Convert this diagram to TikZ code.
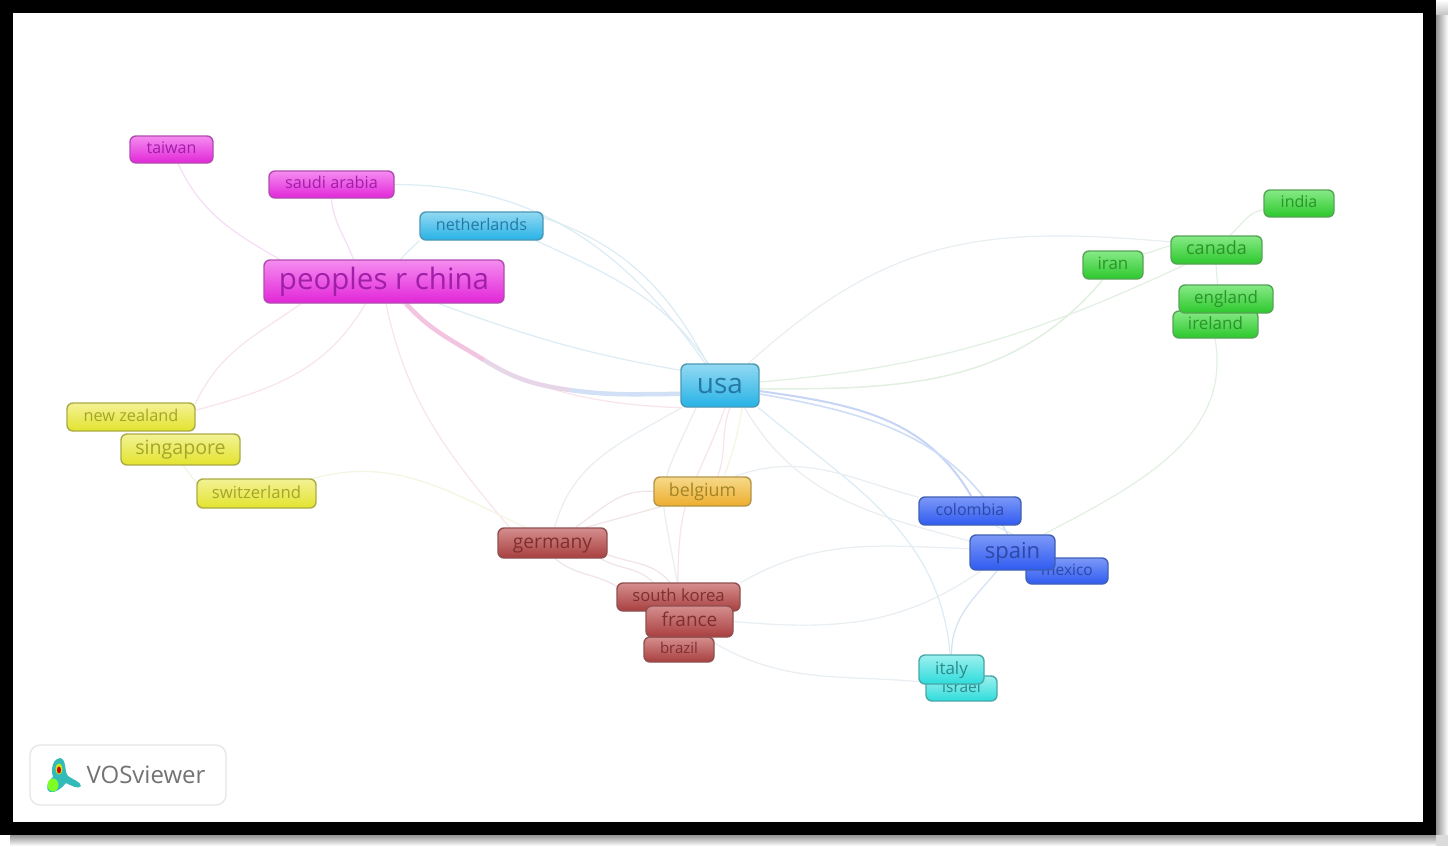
\documentclass[tikz,border=0pt]{standalone}
\usepackage{fontspec}
\setmainfont{Open Sans}
\usetikzlibrary{positioning,arrows.meta}
\definecolor{linkmag}{HTML}{F6DDF6}
\definecolor{linkpink}{HTML}{F8E4EC}
\definecolor{linkblue}{HTML}{DCECF5}
\definecolor{linkgreen}{HTML}{E2F0E2}
\definecolor{linkred}{HTML}{F0E4E6}
\definecolor{linkgrey}{HTML}{E8EEF2}
\definecolor{linkyellow}{HTML}{F6F4E2}
\pgfdeclarelayer{links}
\pgfsetlayers{links,main}
\tikzset{
  chip/.style={rounded corners=6pt, inner sep=0pt, line width=1.4pt},
  sz/.style 2 args={minimum width=#1pt, minimum height=#2pt},
  fnt/.style={font=\fontsize{#1}{#1}\selectfont, text height={#1*0.74pt}, text depth={#1*0.2pt}},
  chipcol/.style n args={4}{chip, draw=#1, top color=#2, bottom color=#3, text=#4},
  link/.style={line width=1.2pt, line cap=round},
}
\definecolor{magdraw}{HTML}{B04CB0}\definecolor{magtop}{HTML}{F58CF0}\definecolor{magbot}{HTML}{E226D8}\definecolor{magtext}{HTML}{A01FA8}
\definecolor{skydraw}{HTML}{4A98B5}\definecolor{skytop}{HTML}{92D9F2}\definecolor{skybot}{HTML}{27B2E6}\definecolor{skytext}{HTML}{2578A5}
\definecolor{yeldraw}{HTML}{ABAB45}\definecolor{yeltop}{HTML}{F3F295}\definecolor{yelbot}{HTML}{E3E32E}\definecolor{yeltext}{HTML}{A5A52A}
\definecolor{orgdraw}{HTML}{B39548}\definecolor{orgtop}{HTML}{F6D98A}\definecolor{orgbot}{HTML}{EDAE2E}\definecolor{orgtext}{HTML}{A28428}
\definecolor{reddraw}{HTML}{8F5050}\definecolor{redtop}{HTML}{D58E8E}\definecolor{redbot}{HTML}{A93F3F}\definecolor{redtext}{HTML}{7E3030}
\definecolor{bludraw}{HTML}{4060B5}\definecolor{blutop}{HTML}{7C98F8}\definecolor{blubot}{HTML}{2F5BF0}\definecolor{blutext}{HTML}{2E48A8}
\definecolor{cyadraw}{HTML}{48A8A8}\definecolor{cyatop}{HTML}{9CF0EE}\definecolor{cyabot}{HTML}{2EDCDC}\definecolor{cyatext}{HTML}{2C8A8A}
\definecolor{grndraw}{HTML}{56A456}\definecolor{grntop}{HTML}{86EA86}\definecolor{grnbot}{HTML}{2CC82C}\definecolor{grntext}{HTML}{2A942A}
\tikzset{
  chipmag/.style={chipcol={magdraw}{magtop}{magbot}{magtext}},
  chipsky/.style={chipcol={skydraw}{skytop}{skybot}{skytext}},
  chipyel/.style={chipcol={yeldraw}{yeltop}{yelbot}{yeltext}},
  chiporg/.style={chipcol={orgdraw}{orgtop}{orgbot}{orgtext}},
  chipred/.style={chipcol={reddraw}{redtop}{redbot}{redtext}},
  chipblu/.style={chipcol={bludraw}{blutop}{blubot}{blutext}},
  chipcya/.style={chipcol={cyadraw}{cyatop}{cyabot}{cyatext}},
  chipgrn/.style={chipcol={grndraw}{grntop}{grnbot}{grntext}},
}
\begin{document}
\begin{tikzpicture}[x=1pt, y=-1pt]
    \useasboundingbox (0,0) rectangle (1448,846);

    % Nodes: top left group
    \node (taiwan) [chipmag, sz={83}{27}, fnt=16] at (171.5,149.5) {taiwan};
    \node (saudi) [chipmag, sz={125}{27}, fnt=16.3] at (331.5,184.5) {saudi arabia};
    \node (china) [chipmag, sz={240}{43}, fnt=29.5] at (384,281.5) {peoples r china};
    \node (netherlands) [chipsky, sz={123}{28}, fnt=16.2] at (481.5,226) {netherlands};
    \node (usa) [chipsky, sz={78}{43}, fnt=28] at (720,385.5) {usa};

    % Nodes: yellow group
    \node (zealand) [chipyel, sz={128}{28}, fnt=16.3] at (131,417) {new zealand};
    \node (singapore) [chipyel, sz={119}{31}, fnt=19.6] at (180.5,449.5) {singapore};
    \node (switzerland) [chipyel, sz={119}{29}, fnt=16.7] at (256.5,493.5) {switzerland};

    % Nodes: centre group
    \node (belgium) [chiporg, sz={97}{29}, fnt=17.8] at (702.5,491.5) {belgium};
    \node (germany) [chipred, sz={109}{30}, fnt=19.2] at (552.5,543) {germany};
    \node (korea) [chipred, sz={123}{28}, fnt=16.7] at (678.5,597) {south korea};
    \node (brazil) [chipred, sz={70}{25}, fnt=15] at (679,649.5) {brazil};
    \node (france) [chipred, sz={87}{31}, fnt=19] at (689.5,621.5) {france};

    % Nodes: blue and cyan group
    \node (colombia) [chipblu, sz={102}{28}, fnt=16] at (970,511) {colombia};
    \node (mexico) [chipblu, sz={82}{26}, fnt=15.5] at (1067,571) {mexico};
    \node (spain) [chipblu, sz={85}{35}, fnt=22] at (1012.5,552.5) {spain};
    \node (israel) [chipcya, sz={71}{25}, fnt=15.5] at (961.5,688.5) {israel};
    \node (italy) [chipcya, sz={65}{29}, fnt=17] at (951.5,669.5) {italy};

    % Nodes: green group
    \node (iran) [chipgrn, sz={60}{28}, fnt=17] at (1113,265) {iran};
    \node (canada) [chipgrn, sz={91}{28}, fnt=18] at (1216.5,250) {canada};
    \node (india) [chipgrn, sz={70}{27}, fnt=16] at (1299,203.5) {india};
    \node (ireland) [chipgrn, sz={85}{27}, fnt=17] at (1215.5,324.5) {ireland};
    \node (england) [chipgrn, sz={94}{28}, fnt=17] at (1226,299) {england};

    % Logo box
    \node (vosbox) [draw=black!10, line width=1.2pt, rounded corners=10pt, sz={196}{60}, inner sep=0pt, align=left,
      text=black!55, font=\fontsize{24}{24}\selectfont, text width=175pt] at (128,775) {\hspace*{46pt}VOSviewer};

    \begin{pgfonlayer}{links}
    % Frame
    \shade[left color=black!42, right color=white] (1436,14) rectangle (1448,835);
    \shade[top color=white, bottom color=black!22] (1436,0) rectangle (1448,14);
    \shade[top color=black!42, bottom color=white] (10,835) rectangle (1436,846);
    \fill[black!14] (1436,835) rectangle (1448,846);
    \fill[black] (0,0) rectangle (1436,835);
    \fill[white] (13,13) rectangle (1423,822);

    % Links to china
    \draw[link, linkmag] (taiwan.-65) to[out=-65, in=150] (china.168);
    \draw[link, linkmag] (saudi.south) to[out=-85, in=110] (china.144);
    \draw[link, linkblue] (netherlands.south west) to[out=-135, in=50] (china.53);
    \draw[link, linkpink] (china.-165) to[out=-145, in=65] (zealand.12);
    \draw[link, linkpink] (china.-130) to[out=-120, in=15] (zealand.6);
    \draw[link, linkpink] (china.-85) to[out=-78, in=130] (germany.160);
    \draw[link, linkblue] (china.-22) to[out=-20, in=170] (usa.159);

    % Thick link china to usa, pink into blue
    \coordinate (thicka) at (484,360);
    \coordinate (thickb) at (570,390);
    \draw[link, linkpink] (china.-50) to[out=-40, in=178] (usa.-150);
    \draw[line width=4.5pt, draw=magenta!22!white!92!gray] (china.-45) to[out=-48, in=148] (thicka);
    \draw[line width=4.5pt, draw=violet!14!white!94!gray] (thicka) to[out=-32, in=172] (thickb);
    \draw[line width=4.5pt, draw=linkblue!95!blue] (thickb) to[out=-8, in=180] (usa.-168);

    % Links to usa
    \draw[link, linkblue] (saudi.east) to[out=0, in=125] (usa.124);
    \draw[link, linkblue] (netherlands.20) to[out=-15, in=118] (usa.120);
    \draw[link, linkblue] (netherlands.-15) to[out=-25, in=125] (usa.118);
    \draw[link, linkgrey] (usa.-150) to[out=-150, in=75] (germany.82);
    \draw[link, linkgrey] (usa.-137) to[out=-115, in=100, looseness=1.5] (korea.95);
    \draw[link, linkpink] (usa.-77) to[out=-110, in=90, looseness=1.3] (korea.92);
    \draw[link, linkpink] (usa.-66) to[out=-110, in=70] (belgium.45);
    \draw[link, linkyellow] (usa.-45) to[out=-100, in=70] (belgium.35);
    \draw[link, linkgrey] (usa.-42) to[out=-60, in=165] (spain.165);
    \draw[link, linkblue] (usa.-30) to[out=-40, in=95] (italy.95);
    \draw[line width=2pt, linkblue!90!blue] (usa.-8) to[out=-8, in=120] (colombia.85);
    \draw[line width=1.6pt, linkblue!94!blue] (usa.-12) to[out=-10, in=118] (spain.105);

    % Links to the green group
    \draw[link, linkgrey] (usa.38) to[out=42, in=175, looseness=1.1] (canada.170);
    \draw[line width=1.5pt, linkgreen] (usa.-5) to[out=0, in=-130] (iran.-125);
    \draw[link, linkgreen] (usa.5) to[out=5, in=-155] (canada.-155);
    \draw[link, linkgreen] (iran.20) to[out=10, in=190] (canada.175);
    \draw[link, linkgreen] (canada.48) to[out=40, in=190] (india.-170);
    \draw[link, linkgreen] (canada.-92) to (england.120);
    \draw[link, linkgreen] (spain.30) to[out=28, in=-80] (ireland.-92);

    % Links around belgium and germany
    \draw[link, linkred] (belgium.west) to[out=175, in=35] (germany.34);
    \draw[link, linkred] (belgium.-160) to (germany.25);
    \draw[link, linkgrey] (belgium.25) to[out=20, in=165] (colombia.165);
    \draw[link, linkyellow] (switzerland.15) to[out=15, in=155] (germany.150);
    \draw[link, linkyellow] (singapore.-80) to (switzerland.170);
    \draw[link, linkred] (germany.-12) to[out=-20, in=130] (korea.120);
    \draw[link, linkred] (germany.-18) to[out=-30, in=135] (korea.150);
    \draw[link, linkred] (germany.-80) to[out=-40, in=150] (korea.170);

    % Links to spain and italy
    \draw[link, linkgrey] (korea.13) to[out=30, in=178] (spain.175);
    \draw[link, linkgrey] (france.east) to[out=-5, in=-145] (spain.-150);
    \draw[link, linkgrey] (brazil.10) to[out=-30, in=175] (italy.-160);
    \draw[link, linkblue!96!blue] (spain.-130) to[out=-130, in=90] (italy.90);
    \draw[link, linkblue] (colombia.-30) to (spain.90);

    % Logo
    \fill[cyan!60!green!80!white] (53,777) .. controls (50,768) and (54,758) .. (60,758) .. controls (67,759) and (64,772) .. (68,776) .. controls (72,779) and (81,782) .. (81,786) .. controls (79,790) and (70,785) .. (66,783) .. controls (62,788) and (56,793) .. (50,792) .. controls (45,790) and (47,782) .. (53,777) -- cycle;
    \fill[green!60!yellow!85!white] (53,785) ellipse (5.5pt and 6.5pt);
    \fill[yellow!80!green] (59,769) ellipse (3.5pt and 5.5pt);
    \fill[red!80!black] (59,770) ellipse (2pt and 3.5pt);
    \end{pgfonlayer}
\end{tikzpicture}
\end{document}
